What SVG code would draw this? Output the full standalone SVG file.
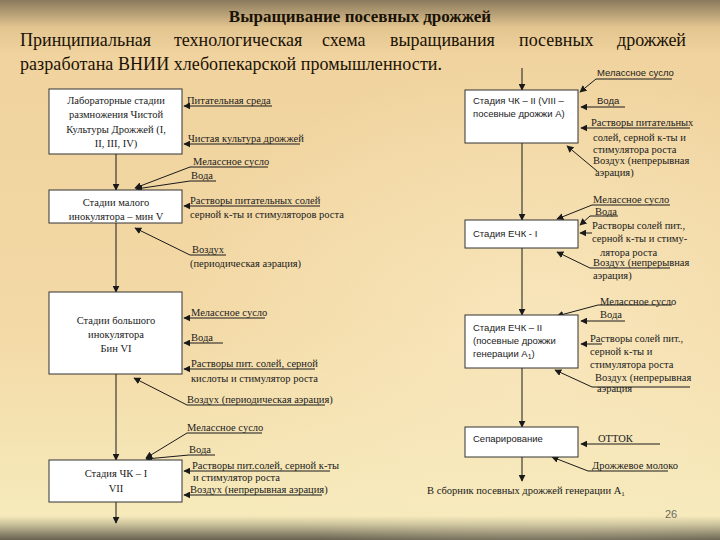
<svg xmlns="http://www.w3.org/2000/svg" width="720" height="540" viewBox="0 0 720 540">
<defs>
<linearGradient id="bg" x1="0" y1="0" x2="0" y2="1">
<stop offset="0" stop-color="#8a7a5c"/>
<stop offset="0.05" stop-color="#e2c48f"/>
<stop offset="0.1" stop-color="#f0d39e"/>
<stop offset="0.6" stop-color="#f3d9a6"/>
<stop offset="0.955" stop-color="#f6eabb"/>
<stop offset="0.97" stop-color="#cdc49d"/>
<stop offset="1" stop-color="#676150"/>
</linearGradient>
<radialGradient id="glow" cx="0.75" cy="0.6" r="0.5">
<stop offset="0" stop-color="#fbeec8" stop-opacity="0.6"/>
<stop offset="1" stop-color="#fbeec8" stop-opacity="0"/>
</radialGradient>
<marker id="ah" viewBox="0 0 10 10" refX="9" refY="5" markerWidth="7" markerHeight="7" markerUnits="userSpaceOnUse" orient="auto">
<path d="M0,0 L10,5 L0,10 z" fill="#1a1a1a"/>
</marker>
</defs>
<style>
.box{fill:#ffffff;stroke:#333;stroke-width:1}
.ar{stroke:#1a1a1a;stroke-width:1;fill:none;marker-end:url(#ah)}
.se{font-family:"Liberation Serif","DejaVu Serif",serif;font-size:10.5px;fill:#1a1a1a}
.ss{font-family:"Liberation Sans","DejaVu Sans",sans-serif;font-size:9.5px;fill:#1a1a1a}
.bc{text-anchor:middle}
.p{font-family:"Liberation Serif","DejaVu Serif",serif;font-size:18px;fill:#1a1206}
</style>
<rect width="720" height="540" fill="url(#bg)"/>
<rect width="720" height="540" fill="url(#glow)"/>

<text x="360" y="22" text-anchor="middle" font-family="Liberation Serif, DejaVu Serif, serif" font-size="17" font-weight="bold" fill="#1a1206">Выращивание посевных дрожжей</text>
<g class="p">
<text x="20" y="46">Принципиальная</text>
<text x="174" y="46">технологическая</text>
<text x="322" y="46">схема</text>
<text x="390" y="46">выращивания</text>
<text x="519" y="46">посевных</text>
<text x="686" y="46" text-anchor="end">дрожжей</text>
<text x="20" y="70" textLength="422" lengthAdjust="spacing">разработана ВНИИ хлебопекарской промышленности.</text>
</g>

<g id="connectors">
<line class="ar" x1="116" y1="154" x2="116" y2="190"/>
<line class="ar" x1="116" y1="223" x2="116" y2="292"/>
<line class="ar" x1="116" y1="374" x2="116" y2="460"/>
<line class="ar" x1="116" y1="502" x2="116" y2="523"/>
<polyline class="ar" points="272,106 184,106"/>
<polyline class="ar" points="300,144 184,144"/>
<polyline class="ar" points="268,167 190,167 135,188"/>
<polyline class="ar" points="216,181 190,181 136,189"/>
<polyline class="ar" points="320,206 184,206"/>
<polyline class="ar" points="226,255 190,255 135,228"/>
<polyline class="ar" points="265,318 184,318"/>
<polyline class="ar" points="223,343 184,343"/>
<polyline class="ar" points="315,369 184,369"/>
<polyline class="ar" points="325,405 187,405 134,378"/>
<polyline class="ar" points="262,433 187,433 146,458"/>
<polyline class="ar" points="215,455 189,455 146,459"/>
<polyline class="ar" points="330,471 184,471"/>
<polyline class="ar" points="322,495 184,495"/>

<line class="ar" x1="522" y1="68" x2="522" y2="90"/>
<line class="ar" x1="522" y1="143" x2="522" y2="220"/>
<line class="ar" x1="522" y1="248" x2="522" y2="315"/>
<line class="ar" x1="522" y1="368" x2="522" y2="427"/>
<line class="ar" x1="522" y1="457" x2="522" y2="481"/>
<polyline class="ar" points="672,79 596,79 580,92"/>
<polyline class="ar" points="625,107 581,107"/>
<polyline class="ar" points="690,128 581,128"/>
<polyline class="ar" points="597,171 567,146"/>
<polyline class="ar" points="670,205 592,205 557,219"/>
<polyline class="ar" points="618,216 590,216 580,225"/>
<polyline class="ar" points="592,233 580,233"/>
<polyline class="ar" points="670,268 590,268 557,252"/>
<polyline class="ar" points="672,305 598,305 557,316"/>
<polyline class="ar" points="625,321 581,321"/>
<polyline class="ar" points="602,344 581,344"/>
<polyline class="ar" points="690,387 592,387 555,370"/>
<polyline class="ar" points="660,444 581,444"/>
<polyline class="ar" points="668,471 588,471 552,457"/>
</g>

<g id="n_lab">
<rect class="box" x="49" y="89" width="133" height="65"/>
<text class="se bc" x="116" y="104">Лабораторные стадии</text>
<text class="se bc" x="116" y="118">размножения Чистой</text>
<text class="se bc" x="116" y="133">Культуры Дрожжей (I,</text>
<text class="se bc" x="116" y="147">II, III, IV)</text>
</g>
<g id="n_small">
<rect class="box" x="49" y="190" width="133" height="33"/>
<text class="se bc" x="116" y="206">Стадии малого</text>
<text class="se bc" x="116" y="220">инокулятора – мин V</text>
</g>
<g id="n_big">
<rect class="box" x="49" y="292" width="133" height="82"/>
<text class="se bc" x="116" y="324">Стадии большого</text>
<text class="se bc" x="116" y="338">инокулятора</text>
<text class="se bc" x="116" y="352">Бин VI</text>
</g>
<g id="n_chk1">
<rect class="box" x="49" y="460" width="133" height="42"/>
<text class="se bc" x="116" y="477">Стадия ЧК – I</text>
<text class="se bc" x="116" y="492">VII</text>
</g>

<g id="labels_left">
<text class="se" x="187" y="104">Питательная среда</text>
<text class="se" x="188" y="142">Чистая культура дрожжей</text>
<text class="se" x="193" y="165">Мелассное сусло</text>
<text class="se" x="191" y="179">Вода</text>
<text class="se" x="190" y="204">Растворы питательных солей</text>
<text class="se" x="190" y="218">серной к-ты и стимуляторов роста</text>
<text class="se" x="192" y="253">Воздух</text>
<text class="se" x="190" y="267">(периодическая аэрация)</text>
<text class="se" x="191" y="316">Мелассное сусло</text>
<text class="se" x="191" y="341">Вода</text>
<text class="se" x="191" y="367">Растворы пит. солей, серной</text>
<text class="se" x="191" y="382">кислоты и стимулятор роста</text>
<text class="se" x="187" y="403">Воздух (периодическая аэрация)</text>
<text class="se" x="187" y="431">Мелассное сусло</text>
<text class="se" x="189" y="453">Вода</text>
<text class="se" x="192" y="469">Растворы пит.солей,  серной к-ты</text>
<text class="se" x="193" y="481">и      стимулятор роста</text>
<text class="se" x="190" y="493">Воздух (непрерывная аэрация)</text>
</g>

<g id="n_chk2">
<rect class="box" x="465" y="90" width="113" height="53"/>
<text class="ss" x="473" y="104">Стадия ЧК – II (VIII –</text>
<text class="ss" x="473" y="117">посевные дрожжи А)</text>
</g>
<g id="n_echk1">
<rect class="box" x="465" y="220" width="113" height="28"/>
<text class="ss" x="473" y="237">Стадия ЕЧК - I</text>
</g>
<g id="n_echk2">
<rect class="box" x="465" y="315" width="113" height="53"/>
<text class="ss" x="473" y="331">Стадия ЕЧК – II</text>
<text class="ss" x="473" y="344">(посевные дрожжи</text>
<text class="ss" x="473" y="357">генерации А<tspan font-size="7" dy="2">1</tspan><tspan dy="-2">)</tspan></text>
</g>
<g id="n_sep">
<rect class="box" x="465" y="427" width="113" height="30"/>
<text class="ss" x="473" y="442">Сепарирование</text>
</g>

<g id="labels_right">
<text class="ss" x="597" y="76">Мелассное сусло</text>
<text class="ss" x="597" y="104">Вода</text>
<text class="se" x="591" y="126">Растворы питательных</text>
<text class="se" x="593" y="141">солей, серной к-ты и</text>
<text class="se" x="593" y="153">стимулятора роста</text>
<text class="se" x="593" y="164">Воздух (непрерывная</text>
<text class="se" x="595" y="176">аэрация)</text>
<text class="se" x="593" y="203">Мелассное сусло</text>
<text class="se" x="595" y="215">Вода</text>
<text class="se" x="592" y="229">Растворы солей пит.,</text>
<text class="se" x="592" y="242">серной к-ты и стиму-</text>
<text class="se" x="600" y="256">лятора роста</text>
<text class="se" x="593" y="266">Воздух (непрерывная</text>
<text class="se" x="593" y="279">аэрация)</text>
<text class="se" x="600" y="305">Мелассное сусло</text>
<text class="se" x="600" y="318">Вода</text>
<text class="se" x="590" y="342">Растворы солей пит.,</text>
<text class="se" x="590" y="355">серной к-ты и</text>
<text class="se" x="590" y="368">стимулятора роста</text>
<text class="se" x="595" y="381">Воздух (непрерывная</text>
<text class="se" x="597" y="392">аэрация</text>
<text class="se" x="598" y="442">ОТТОК</text>
<text class="se" x="592" y="469">Дрожжевое молоко</text>
<text class="se" x="427" y="494">В сборник посевных дрожжей генерации А<tspan font-size="7" dy="2">1</tspan></text>
</g>
<text x="665" y="518" font-family="Liberation Sans, DejaVu Sans, sans-serif" font-size="11" fill="#6a6a60">26</text>
</svg>
